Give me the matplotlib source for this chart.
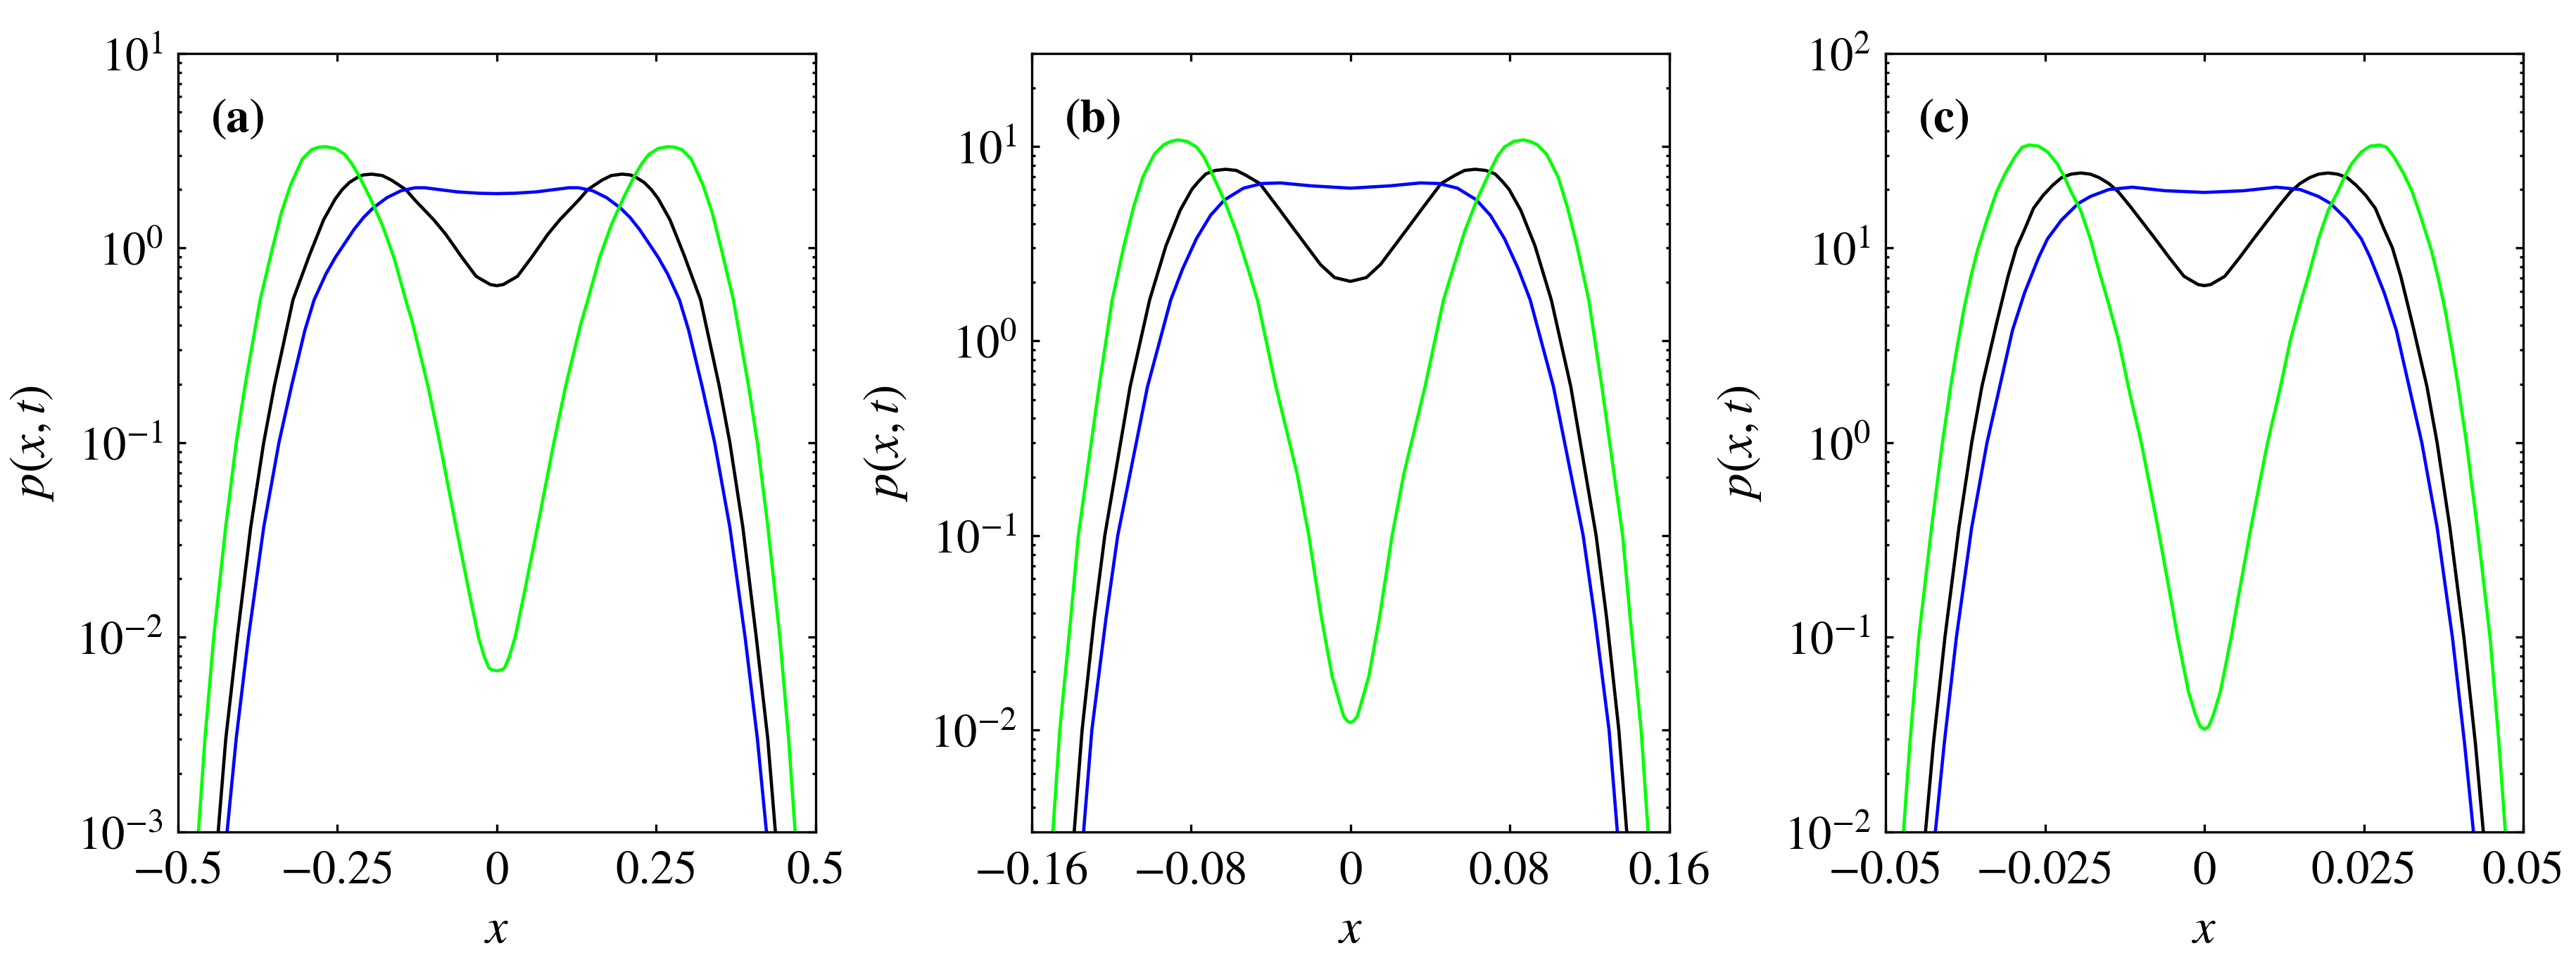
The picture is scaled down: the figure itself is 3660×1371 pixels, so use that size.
import numpy as np
import matplotlib
matplotlib.use('Agg')
import matplotlib.pyplot as plt
from matplotlib.ticker import LogLocator, NullFormatter, FixedLocator, FixedFormatter

# Times-like text everywhere (STIX ships with matplotlib)
plt.rcParams['font.family'] = ['STIXGeneral', 'Liberation Serif', 'DejaVu Serif']
plt.rcParams['mathtext.fontset'] = 'stix'

# Values, left half of each curve (x <= 0).
# The profiles are symmetric about x = 0, the right half is the mirror image.

# panel (a)
xa_green = [-0.468, -0.4577, -0.444, -0.4253, -0.4087, -0.395, -0.3711, -0.3527, -0.338, -0.3233,
            -0.3049, -0.2902, -0.2791, -0.268, -0.2533, -0.2386, -0.2276, -0.2165, -0.198, -0.1797,
            -0.1613, -0.1429, -0.132, -0.1079, -0.0895, -0.0637, -0.0416, -0.0287, -0.0195, -0.0121,
            -0.0066, 0.0]
pa_green = [0.001, 0.00302, 0.0100, 0.0367, 0.100, 0.195, 0.543, 0.973, 1.517, 2.116,
            2.871, 3.21, 3.30, 3.319, 3.25, 3.034, 2.72, 2.366, 1.791, 1.318,
            0.895, 0.543, 0.411, 0.195, 0.100, 0.0367, 0.01596, 0.0100, 0.00794, 0.00695,
            0.00679, 0.00673]
xa_black = [-0.437, -0.425, -0.407, -0.386, -0.3656, -0.349, -0.3196, -0.2938, -0.2717, -0.2533,
            -0.2423, -0.2312, -0.2165, -0.2091, -0.1963, -0.1797, -0.165, -0.1429, -0.1285, -0.0987,
            -0.0803, -0.0545, -0.0324, -0.0103, 0.0]
pa_black = [0.001, 0.00302, 0.0100, 0.0367, 0.100, 0.195, 0.543, 0.920, 1.396, 1.791,
            2.000, 2.173, 2.33, 2.377, 2.399, 2.36, 2.234, 2.000, 1.766, 1.396,
            1.180, 0.895, 0.716, 0.650, 0.641]
xa_blue = [-0.423, -0.4087, -0.3895, -0.3656, -0.3417, -0.322, -0.301, -0.2864, -0.268, -0.2533,
           -0.2386, -0.2239, -0.2091, -0.1944, -0.1723, -0.1502, -0.1281, -0.113, -0.0619, -0.0287, 0.0]
pa_blue = [0.001, 0.00302, 0.0100, 0.0367, 0.100, 0.195, 0.378, 0.543, 0.736, 0.895,
           1.057, 1.247, 1.435, 1.603, 1.816, 1.972, 2.042, 2.042, 1.945, 1.914, 1.905]

# panel (b)
xb_green = [-0.1495, -0.1459, -0.1404, -0.1366, -0.1262, -0.1196, -0.1137, -0.1090, -0.1043, -0.1008,
            -0.0984, -0.0937, -0.0902, -0.0867, -0.0820, -0.0773, -0.0737, -0.0702, -0.0632, -0.0573,
            -0.0514, -0.0467, -0.0374, -0.0268, -0.0209, -0.0145, -0.0092, -0.0051, -0.0033, -0.0015, 0.0]
pb_green = [0.00288, 0.0100, 0.0376, 0.100, 0.581, 1.626, 3.083, 4.819, 6.918, 8.17,
            9.120, 10.2, 10.6, 10.79, 10.6, 9.931, 8.88, 7.516, 5.236, 3.648,
            2.339, 1.626, 0.581, 0.208, 0.100, 0.0376, 0.0189, 0.01346, 0.01172, 0.01114, 0.01094]
xb_black = [-0.1388, -0.1347, -0.1286, -0.1233, -0.1106, -0.1008, -0.0926, -0.0855, -0.0796, -0.0761,
            -0.0726, -0.0679, -0.0626, -0.0573, -0.0526, -0.0455, -0.0362, -0.0292, -0.0221, -0.0151,
            -0.008, 0.0]
pb_black = [0.00288, 0.0100, 0.0376, 0.100, 0.581, 1.626, 3.083, 4.688, 6.012, 6.63,
            7.211, 7.52, 7.621, 7.52, 7.112, 6.442, 4.819, 3.855, 3.083, 2.472,
            2.118, 2.023]
xb_blue = [-0.1341, -0.1298, -0.1227, -0.1168, -0.1019, -0.0902, -0.0843, -0.0773, -0.0702, -0.0632,
           -0.0537, -0.0443, -0.0351, -0.0198, 0.0]
pb_blue = [0.00288, 0.0100, 0.0376, 0.100, 0.581, 1.626, 2.339, 3.357, 4.426, 5.309,
           6.095, 6.442, 6.486, 6.266, 6.095]

# panel (c)
xc_green = [-0.0472, -0.0462, -0.0448, -0.0428, -0.0411, -0.0398, -0.0389, -0.0378, -0.0367, -0.0356,
            -0.0341, -0.0326, -0.0312, -0.0297, -0.0286, -0.0275, -0.0260, -0.0246, -0.0231, -0.0220,
            -0.0209, -0.0194, -0.0179, -0.0165, -0.0150, -0.0135, -0.0117, -0.0099, -0.0073, -0.0053,
            -0.0042, -0.0025, -0.0014, -0.00066, 0.0]
pc_green = [0.0100, 0.02858, 0.100, 0.367, 1.000, 1.945, 2.951, 4.721, 6.966, 9.727,
            13.96, 19.45, 24.32, 29.51, 32.96, 33.88, 33.42, 31.19, 27.16, 23.33,
            19.45, 15.60, 11.17, 7.568, 5.140, 3.388, 1.791, 1.000, 0.367, 0.160,
            0.100, 0.0526, 0.0399, 0.0348, 0.0337]
xc_black = [-0.04375, -0.0425, -0.0407, -0.0385, -0.0365, -0.0349, -0.0326, -0.0308, -0.0295, -0.0282,
            -0.0268, -0.0253, -0.0238, -0.0224, -0.0209, -0.0194, -0.0179, -0.0165, -0.0150, -0.0135,
            -0.0117, -0.0080, -0.0054, -0.0032, -0.0010, 0.0]
pc_black = [0.0100, 0.02858, 0.100, 0.367, 1.000, 1.945, 4.111, 7.161, 10.00, 12.47,
            16.03, 18.66, 21.04, 23.01, 23.99, 24.32, 23.99, 23.01, 21.48, 19.45,
            16.48, 11.48, 8.831, 7.161, 6.501, 6.412]
xc_blue = [-0.0422, -0.0408, -0.0389, -0.0365, -0.0341, -0.0321, -0.0301, -0.0282, -0.0260, -0.0246,
           -0.0224, -0.0198, -0.0179, -0.0150, -0.0113, -0.0062, 0.0]
pc_blue = [0.0100, 0.02858, 0.100, 0.367, 1.000, 1.945, 3.784, 5.902, 8.954, 11.17,
           13.96, 16.94, 18.41, 20.00, 20.56, 19.72, 19.32]

labels = ['(a)', '(b)', '(c)']
xlims = [(-0.5, 0.5), (-0.16, 0.16), (-0.05, 0.05)]
ylims = [(1e-3, 10), (3e-3, 30), (1e-2, 100)]
xticks = [[-0.5, -0.25, 0, 0.25, 0.5], [-0.16, -0.08, 0, 0.08, 0.16], [-0.05, -0.025, 0, 0.025, 0.05]]
xticklabels = [['\u22120.5', '\u22120.25', '0', '0.25', '0.5'],
               ['\u22120.16', '\u22120.08', '0', '0.08', '0.16'],
               ['\u22120.05', '\u22120.025', '0', '0.025', '0.05']]


def mirror(x, p):
    # add the right half (x > 0) from the left half
    x = np.asarray(x)
    p = np.asarray(p)
    return np.concatenate([x, -x[-2::-1]]), np.concatenate([p, p[-2::-1]])


curves = [
    [(xa_black, pa_black), (xa_blue, pa_blue), (xa_green, pa_green)],
    [(xb_black, pb_black), (xb_blue, pb_blue), (xb_green, pb_green)],
    [(xc_black, pc_black), (xc_blue, pc_blue), (xc_green, pc_green)],
]
colors = ['black', '#0000ff', '#00ff00']

fig = plt.figure(figsize=(12.2, 4.5733), dpi=300)
lefts = [0.0691, 0.4005, 0.732]

for i in range(3):
    ax = fig.add_axes([lefts[i], 0.1378, 0.2475, 0.8061])
    for (x, p), c in zip(curves[i], colors):
        xx, pp = mirror(x, p)
        ax.plot(xx, pp, color=c, lw=1.1, solid_joinstyle='round')
    ax.set_yscale('log')
    ax.set_xlim(xlims[i])
    ax.set_ylim(ylims[i])
    ax.xaxis.set_major_locator(FixedLocator(xticks[i]))
    ax.xaxis.set_major_formatter(FixedFormatter(xticklabels[i]))
    ax.yaxis.set_major_locator(LogLocator(base=10, numticks=20))
    ax.yaxis.set_minor_locator(LogLocator(base=10, subs=np.arange(2, 10), numticks=20))
    ax.yaxis.set_minor_formatter(NullFormatter())
    ax.tick_params(which='both', direction='in', top=True, right=True, width=0.8)
    ax.tick_params(which='major', length=2.6, labelsize=16)
    ax.tick_params(which='minor', length=1.3)
    ax.tick_params(axis='x', pad=6.5)
    ax.tick_params(axis='y', pad=5)
    for s in ax.spines.values():
        s.set_linewidth(0.8)
    ax.set_xlabel('$x$', fontsize=17, labelpad=4.5)
    ax.set_ylabel('$p(x,t)$', fontsize=17, labelpad=7)
    ax.text(0.052, 0.90, labels[i], transform=ax.transAxes, fontsize=16,
            fontweight='bold', va='baseline', ha='left')

fig.savefig('out.png', dpi=300)
